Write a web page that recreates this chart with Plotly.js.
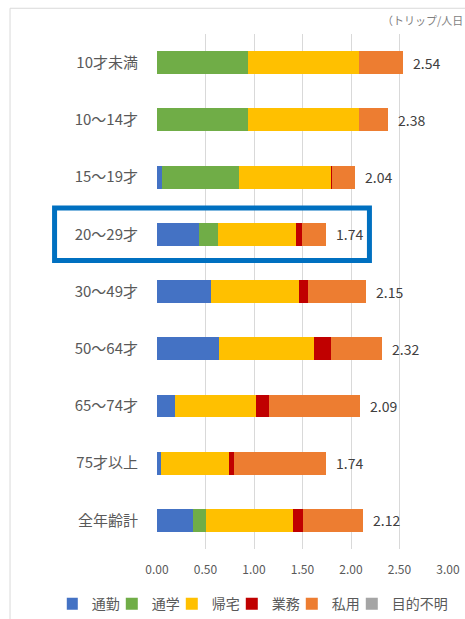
<!DOCTYPE html>
<html>
<head>
<meta charset="utf-8">
<script src="https://cdn.plot.ly/plotly-3.0.1.min.js"></script>
<style>
  html, body { margin: 0; padding: 0; background: #ffffff; }
  #chart { width: 465px; height: 619px; }
</style>
</head>
<body>
<div id="chart"></div>
<script>
// Categories (top to bottom)
const categories = ["10才未満", "10〜14才", "15〜19才", "20〜29才", "30〜49才", "50〜64才", "65〜74才", "75才以上", "全年齢計"];

// Series names
const seriesNames = ["通勤", "通学", "帰宅", "業務", "私用", "目的不明"];

// Series values (trips per person per day)
const commute  = [0.00, 0.00, 0.05, 0.43, 0.56, 0.64, 0.19, 0.04, 0.37];
const school   = [0.94, 0.94, 0.80, 0.20, 0.00, 0.00, 0.00, 0.00, 0.14];
const home     = [1.14, 1.14, 0.94, 0.80, 0.90, 0.98, 0.83, 0.70, 0.89];
const business = [0.00, 0.00, 0.01, 0.06, 0.10, 0.17, 0.13, 0.05, 0.10];
const privateU = [0.46, 0.30, 0.24, 0.25, 0.59, 0.53, 0.94, 0.95, 0.62];
const unknown  = [0.00, 0.00, 0.00, 0.00, 0.00, 0.00, 0.00, 0.00, 0.00];

// Axis ticks
const xTickVals = [0, 0.5, 1.0, 1.5, 2.0, 2.5, 3.0];
const xTickText = ["0.00", "0.50", "1.00", "1.50", "2.00", "2.50", "3.00"];

const unitLabel = "（トリップ/人日";
const highlightCategory = "20〜29才";

const colors = ["#4472C4", "#70AD47", "#FFC000", "#C00000", "#ED7D31", "#A5A5A5"];
const seriesValues = [commute, school, home, business, privateU, unknown];

const FONT = '"Noto Sans CJK JP", "Noto Sans", sans-serif';

const traces = seriesValues.map((vals, i) => ({
  type: "bar",
  orientation: "h",
  name: seriesNames[i],
  x: vals,
  y: categories,
  marker: { color: colors[i], line: { width: 0 } },
  legendwidth: seriesNames[i].length > 2 ? 58 : 30,
  hoverinfo: "x+name"
}));

const totals = categories.map((c, j) => seriesValues.reduce((s, arr) => s + arr[j], 0));

const annotations = categories.map((c, j) => ({
  x: totals[j],
  y: c,
  xref: "x",
  yref: "y",
  text: totals[j].toFixed(2),
  showarrow: false,
  xanchor: "left",
  xshift: 8,
  font: { family: FONT, size: 14, color: "#404040" }
}));

annotations.push({
  xref: "paper", yref: "paper",
  x: 1.06, y: 1.027,
  xanchor: "right", yanchor: "middle",
  text: unitLabel,
  showarrow: false,
  font: { family: FONT, size: 11, color: "#7f7f7f" }
});

const hi = categories.indexOf(highlightCategory);
const n = categories.length;

const layout = {
  width: 465,
  height: 619,
  margin: { l: 157, r: 17, t: 34, b: 70, pad: 0, autoexpand: false },
  paper_bgcolor: "rgba(0,0,0,0)",
  plot_bgcolor: "rgba(0,0,0,0)",
  barmode: "stack",
  bargap: 0.6,
  font: { family: FONT, color: "#595959" },
  xaxis: {
    range: [0, 3],
    tickvals: xTickVals,
    ticktext: xTickText,
    showgrid: true,
    gridcolor: "#d9d9d9",
    gridwidth: 1,
    zeroline: false,
    showline: false,
    ticks: "",
    ticklabelstandoff: 12,
    tickfont: { family: FONT, size: 12, color: "#595959" },
    fixedrange: true
  },
  yaxis: {
    type: "category",
    autorange: "reversed",
    showgrid: false,
    zeroline: false,
    showline: false,
    ticks: "",
    ticklabelstandoff: 18,
    tickfont: { family: FONT, size: 15, color: "#595959" },
    fixedrange: true
  },
  showlegend: true,
  legend: {
    orientation: "h",
    xref: "paper",
    yref: "paper",
    x: -0.31,
    y: -0.107,
    xanchor: "left",
    yanchor: "middle",
    traceorder: "normal",
    font: { family: FONT, size: 14, color: "#595959" },
    itemwidth: 30,
    indentation: -15,
    itemclick: false,
    itemdoubleclick: false
  },
  annotations: annotations,
  shapes: [
    // chart frame (top and left edges)
    { type: "line", xref: "paper", yref: "paper", x0: -0.505, x1: 1.06, y0: 1.05, y1: 1.05,
      line: { color: "#d9d9d9", width: 1 }, layer: "below" },
    { type: "line", xref: "paper", yref: "paper", x0: -0.505, x1: -0.505, y0: 1.05, y1: -0.14,
      line: { color: "#d9d9d9", width: 1 }, layer: "below" },
    // highlight box
    { type: "rect", xref: "paper", yref: "paper",
      x0: -0.352, x1: 0.730,
      y0: 1 - (hi + 0.5) / n - 0.051, y1: 1 - (hi + 0.5) / n + 0.051,
      line: { color: "#0070C0", width: 5 }, fillcolor: "rgba(0,0,0,0)", layer: "above" }
  ]
};

Plotly.newPlot("chart", traces, layout, { displayModeBar: false, staticPlot: true });
</script>
</body>
</html>
